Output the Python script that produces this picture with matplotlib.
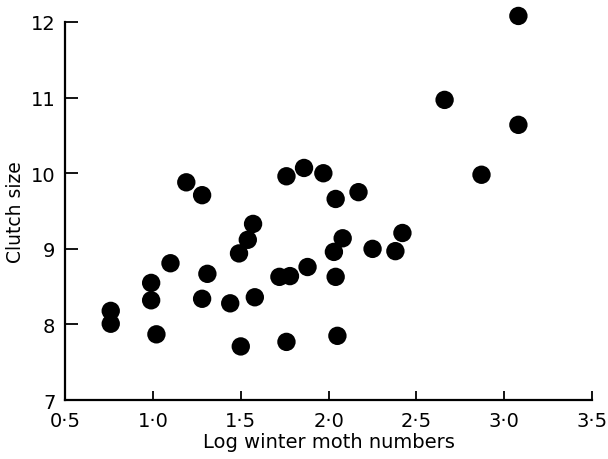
import matplotlib

matplotlib.use("Agg")
import matplotlib.pyplot as plt

# log winter moth numbers vs clutch size
log_moth = [0.76, 0.76, 0.99, 0.99, 1.02, 1.10, 1.19, 1.28, 1.28, 1.31,
            1.44, 1.49, 1.50, 1.54, 1.57, 1.58, 1.72, 1.76, 1.76, 1.78,
            1.86, 1.88, 1.97, 2.03, 2.04, 2.04, 2.05, 2.08, 2.17, 2.25,
            2.38, 2.42, 2.66, 2.87, 3.08, 3.08]
clutch = [8.18, 8.01, 8.55, 8.32, 7.87, 8.81, 9.88, 9.71, 8.34, 8.67,
          8.28, 8.94, 7.71, 9.12, 9.33, 8.36, 8.63, 9.96, 7.77, 8.64,
          10.07, 8.76, 10.00, 8.96, 8.63, 9.66, 7.85, 9.14, 9.75, 9.00,
          8.97, 9.21, 10.97, 9.98, 10.64, 12.08]

x_ticks = [0.5, 1.0, 1.5, 2.0, 2.5, 3.0, 3.5]
x_tick_labels = ["0·5", "1·0", "1·5", "2·0", "2·5", "3·0", "3·5"]
y_ticks = [7, 8, 9, 10, 11, 12]

plt.rcParams["font.family"] = ["DejaVu Sans"]

fig = plt.figure(figsize=(6.08, 4.60), dpi=100)
ax = fig.add_axes([0.107, 0.128, 0.867, 0.822])

ax.scatter(log_moth, clutch, s=175, color="black", edgecolors="none", zorder=3, clip_on=False)

ax.set_xlim(0.5, 3.5)
ax.set_ylim(7, 12)
ax.set_xticks(x_ticks)
ax.set_xticklabels(x_tick_labels)
ax.set_yticks(y_ticks)

for side in ("top", "right"):
    ax.spines[side].set_visible(False)
for side in ("left", "bottom"):
    ax.spines[side].set_linewidth(1.6)

ax.tick_params(axis="x", direction="in", length=6.5, width=1.3, labelsize=14, pad=8)
ax.tick_params(axis="y", direction="in", length=9.5, width=1.3, labelsize=14, pad=7)

ax.set_xlabel("Log winter moth numbers", fontsize=14, labelpad=1)
ax.set_ylabel("Clutch size", fontsize=13.5, labelpad=4)

fig.savefig("out.png", dpi=100)
